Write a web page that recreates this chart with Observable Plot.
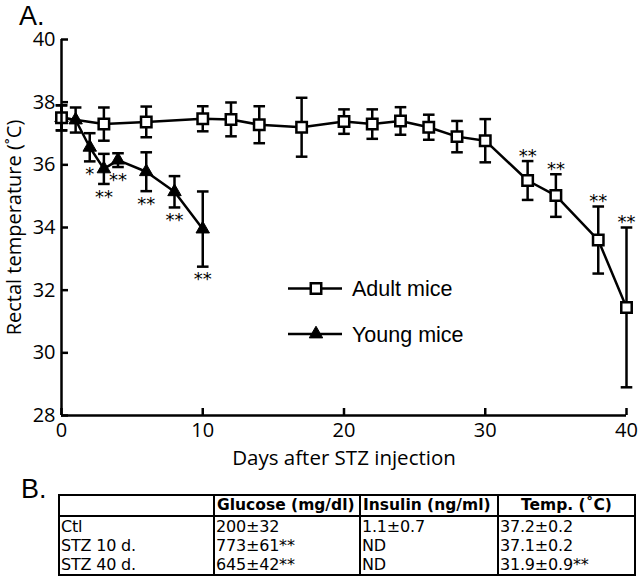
<!DOCTYPE html>
<html>
<head>
<meta charset="utf-8">
<script src="https://cdn.jsdelivr.net/npm/d3@7"></script>
<script src="https://cdn.jsdelivr.net/npm/@observablehq/plot@0.6"></script>
<style>
  body { margin: 0; background: #fff; }
  #wrap { position: relative; width: 640px; height: 577px; overflow: hidden; background: #fff; }
  #chart { position: absolute; left: 0; top: 0; }
  .panel { position: absolute; font-family: "Liberation Sans", Arial, sans-serif; font-size: 27px; line-height: 30px; color: #000; }
  #legend { position: absolute; left: 0; top: 0; pointer-events: none; }
  #tbl { position: absolute; left: 58px; top: 494px; border-collapse: collapse; font-family: "DejaVu Sans", sans-serif; font-size: 16px; color: #000; table-layout: fixed; width: 576px; border: 2.5px solid #000; }
  #tbl th { border: 2px solid #000; height: 19px; padding: 0 2px; font-weight: bold; font-size: 15.5px; text-align: left; line-height: 19px; }
  #tbl th.c { text-align: center; }
  #tbl td { border-left: 2px solid #000; border-right: 2px solid #000; height: 19px; padding: 0 1px; line-height: 19px; white-space: nowrap; letter-spacing: -0.2px; }
</style>
</head>
<body>
<div id="wrap">
  <div id="chart"></div>
  <div class="panel" style="left:19px;top:1px;">A.</div>
  <div class="panel" style="left:21px;top:474px;">B.</div>
</div>
<script>
// ---- Data ----
const adultDays = [0, 3, 6, 10, 12, 14, 17, 20, 22, 24, 26, 28, 30, 33, 35, 38, 40];
const adultTemp = [37.5, 37.3, 37.37, 37.47, 37.45, 37.28, 37.2, 37.38, 37.3, 37.4, 37.2, 36.9, 36.77, 35.5, 35.02, 33.6, 31.45];
const adultErr  = [0.4, 0.53, 0.49, 0.4, 0.54, 0.59, 0.94, 0.39, 0.47, 0.44, 0.4, 0.5, 0.69, 0.62, 0.68, 1.07, 2.55];
const adultSig  = ["", "", "", "", "", "", "", "", "", "", "", "", "", "**", "**", "**", "**"];

const youngDays = [0, 1, 2, 3, 4, 6, 8, 10];
const youngTemp = [37.5, 37.43, 36.56, 35.87, 36.15, 35.78, 35.14, 33.95];
const youngErr  = [0.4, 0.4, 0.45, 0.48, 0.22, 0.62, 0.5, 1.2];
const youngSig  = ["", "", "*", "**", "**", "**", "**", "**"];

const xTicks = [0, 10, 20, 30, 40];
const yTicks = [28, 30, 32, 34, 36, 38, 40];
const xLabel = "Days after STZ injection";
const yLabel = "Rectal temperature (˚C)";
const seriesNames = ["Adult mice", "Young mice"];

const tableHead = ["", "Glucose (mg/dl)", "Insulin (ng/ml)", "Temp. (˚C)"];
const tableGroups = ["Ctl", "STZ 10 d.", "STZ 40 d."];
const tableGlucose = ["200±32", "773±61**", "645±42**"];
const tableInsulin = ["1.1±0.7", "ND", "ND"];
const tableTemp = ["37.2±0.2", "37.1±0.2", "31.9±0.9**"];

// ---- Build records ----
const adult = adultDays.map((d, i) => ({day: d, t: adultTemp[i], lo: adultTemp[i] - adultErr[i], hi: adultTemp[i] + adultErr[i], sig: adultSig[i]}));
const young = youngDays.map((d, i) => ({day: d, t: youngTemp[i], lo: youngTemp[i] - youngErr[i], hi: youngTemp[i] + youngErr[i], sig: youngSig[i]}));

const SW = 2.5;
const capSymbol = {draw(ctx, size) { const w = Math.sqrt(size / Math.PI); ctx.moveTo(-w, 0); ctx.lineTo(w, 0); }};
const SQ_R = 5.9, TRI_R = 5, CAP_R = 5.8;

function errorMarks(data) {
  return [
    Plot.ruleX(data, {x: "day", y1: "lo", y2: "hi", stroke: "black", strokeWidth: SW}),
    Plot.dot(data, {x: "day", y: "lo", symbol: capSymbol, r: CAP_R, stroke: "black", strokeWidth: SW}),
    Plot.dot(data, {x: "day", y: "hi", symbol: capSymbol, r: CAP_R, stroke: "black", strokeWidth: SW})
  ];
}

const chart = Plot.plot({
  width: 640,
  height: 470,
  marginLeft: 61,
  marginRight: 14,
  marginTop: 39,
  marginBottom: 55,
  style: {fontFamily: "'Open Sans', sans-serif", fontSize: "20px", color: "black", background: "transparent"},
  x: {domain: [0, 40]},
  y: {domain: [28, 40]},
  marks: [
    // young mice
    Plot.line(young, {x: "day", y: "t", stroke: "black", strokeWidth: SW}),
    ...errorMarks(young),
    Plot.dot(young, {x: "day", y: "t", symbol: "triangle", r: TRI_R, fill: "black", stroke: "black", strokeWidth: 1}),
    Plot.text(young.filter(d => d.sig), {x: "day", y: "lo", text: "sig", dy: 13, fontFamily: "DejaVu Sans", fontSize: 18}),
    // adult mice
    Plot.line(adult, {x: "day", y: "t", stroke: "black", strokeWidth: SW}),
    ...errorMarks(adult),
    Plot.dot(adult, {x: "day", y: "t", symbol: "square", r: SQ_R, fill: "white", stroke: "black", strokeWidth: SW}),
    Plot.text(adult.filter(d => d.sig), {x: "day", y: "hi", text: "sig", dy: -5, fontFamily: "DejaVu Sans", fontSize: 18}),
    // axes
    Plot.ruleX([0], {stroke: "black", strokeWidth: SW}),
    Plot.ruleY([28], {stroke: "black", strokeWidth: SW}),
    Plot.axisX({ticks: xTicks, tickSize: -7, tickPadding: 14, strokeWidth: SW, label: null, fontSize: 20}),
    Plot.axisY({ticks: yTicks, tickSize: -7, tickPadding: 13, strokeWidth: SW, label: null, fontSize: 20}),
    Plot.text([xLabel], {frameAnchor: "bottom", dy: 49, fontSize: 20.5}),
    Plot.text([yLabel], {frameAnchor: "left", textAnchor: "middle", rotate: -90, dx: -47, fontSize: 20})
  ]
});
document.getElementById("chart").appendChild(chart);

// ---- Legend (inside plot area) ----
const ns = "http://www.w3.org/2000/svg";
const leg = document.createElementNS(ns, "svg");
leg.setAttribute("id", "legend");
leg.setAttribute("width", 640);
leg.setAttribute("height", 577);
const legRows = [
  {name: seriesNames[0], y: 288.5, sym: d3.symbol(d3.symbolSquare, Math.PI * SQ_R * SQ_R)(), fill: "white", sw: SW},
  {name: seriesNames[1], y: 334, sym: d3.symbol(d3.symbolTriangle, Math.PI * TRI_R * TRI_R)(), fill: "black", sw: 1}
];
for (const r of legRows) {
  const ln = document.createElementNS(ns, "line");
  ln.setAttribute("x1", 288); ln.setAttribute("x2", 342);
  ln.setAttribute("y1", r.y); ln.setAttribute("y2", r.y);
  ln.setAttribute("stroke", "black"); ln.setAttribute("stroke-width", SW);
  leg.appendChild(ln);
  const p = document.createElementNS(ns, "path");
  p.setAttribute("d", r.sym);
  p.setAttribute("transform", `translate(316,${r.y})`);
  p.setAttribute("fill", r.fill); p.setAttribute("stroke", "black"); p.setAttribute("stroke-width", r.sw);
  leg.appendChild(p);
  const t = document.createElementNS(ns, "text");
  t.setAttribute("x", 352); t.setAttribute("y", r.y + 7.7);
  t.setAttribute("font-family", "'Liberation Sans', Arial, sans-serif");
  t.setAttribute("font-size", 21.5);
  t.textContent = r.name;
  leg.appendChild(t);
}
document.getElementById("wrap").appendChild(leg);

// ---- Table B ----
const tbl = document.createElement("table");
tbl.id = "tbl";
const cg = document.createElement("colgroup");
for (const w of [155, 146, 138, 137]) { const c = document.createElement("col"); c.style.width = w + "px"; cg.appendChild(c); }
tbl.appendChild(cg);
const thead = document.createElement("tr");
tableHead.forEach((h, i) => { const th = document.createElement("th"); th.textContent = h; if (i === 3) th.className = "c"; thead.appendChild(th); });
tbl.appendChild(thead);
tableGroups.forEach((g, i) => {
  const tr = document.createElement("tr");
  for (const v of [g, tableGlucose[i], tableInsulin[i], tableTemp[i]]) { const td = document.createElement("td"); td.textContent = v; tr.appendChild(td); }
  tbl.appendChild(tr);
});
document.getElementById("wrap").appendChild(tbl);
</script>
</body>
</html>
